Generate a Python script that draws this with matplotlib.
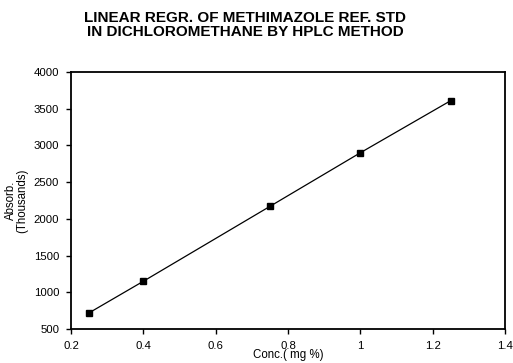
import matplotlib
matplotlib.use("Agg")
import matplotlib.pyplot as plt

conc = [0.25, 0.40, 0.75, 1.00, 1.25]
absorb = [720, 1150, 2170, 2900, 3610]
xticks = [0.2, 0.4, 0.6, 0.8, 1.0, 1.2, 1.4]
xticklabels = ["0.2", "0.4", "0.6", "0.8", "1", "1.2", "1.4"]
yticks = [500, 1000, 1500, 2000, 2500, 3000, 3500, 4000]

plt.rcParams['font.family'] = ['Liberation Sans', 'DejaVu Sans']

fig = plt.figure(figsize=(5.13, 3.63), dpi=100)
ax = fig.add_axes([71/513, 34/363, 434/513, 257/363])

ax.plot(conc, absorb, color='black', linewidth=0.9, marker='s',
        markersize=4.5, markerfacecolor='black', markeredgecolor='black')

ax.set_xlim(0.2, 1.4)
ax.set_ylim(500, 4000)
ax.set_xticks(xticks)
ax.set_xticklabels(xticklabels)
ax.set_yticks(yticks)
ax.tick_params(axis='both', direction='out', length=3.5, width=1, labelsize=8.2, colors='black')
ax.tick_params(axis='x', pad=5)
ax.tick_params(axis='y', pad=5)
for s in ax.spines.values():
    s.set_linewidth(1.3)
    s.set_color('black')

ax.set_xlabel("Conc.( mg %)", fontsize=8.3, labelpad=-1)
ax.set_ylabel("Absorb.\n(Thousands)", fontsize=8.3, labelpad=4, linespacing=0.95)

fig.text(245/513, 1 - 25.5/363, "LINEAR REGR. OF METHIMAZOLE REF. STD\nIN DICHLOROMETHANE BY HPLC METHOD",
         ha='center', va='center', fontsize=11, fontweight='bold', linespacing=1.0)

fig.savefig("out.png", dpi=100)
